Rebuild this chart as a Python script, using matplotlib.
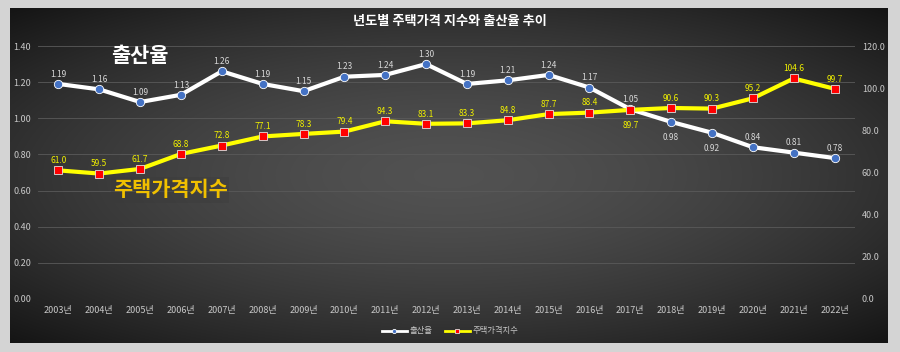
import numpy as np
import matplotlib
matplotlib.use("Agg")
import matplotlib.pyplot as plt

plt.rcParams['font.family'] = ['Noto Sans CJK KR', 'DejaVu Sans']

years = ["2003년", "2004년", "2005년", "2006년", "2007년", "2008년", "2009년", "2010년",
         "2011년", "2012년", "2013년", "2014년", "2015년", "2016년", "2017년", "2018년",
         "2019년", "2020년", "2021년", "2022년"]
birth_rate = [1.19, 1.16, 1.09, 1.13, 1.26, 1.19, 1.15, 1.23, 1.24, 1.30,
              1.19, 1.21, 1.24, 1.17, 1.05, 0.98, 0.92, 0.84, 0.81, 0.78]
house_index = [61.0, 59.5, 61.7, 68.8, 72.8, 77.1, 78.3, 79.4, 84.3, 83.1,
               83.3, 84.8, 87.7, 88.4, 89.7, 90.6, 90.3, 95.2, 104.6, 99.7]
left_ticks = [0.0, 0.2, 0.4, 0.6, 0.8, 1.0, 1.2, 1.4]
right_ticks = [0, 20, 40, 60, 80, 100, 120]

W, H = 900, 352
fig = plt.figure(figsize=(W / 100, H / 100), dpi=100)
fig.patch.set_facecolor('#d4d4d4')

# dark gradient panel
bg = fig.add_axes([10 / W, 1 - 343 / H, 878 / W, 335 / H])
bg.set_axis_off()
yy, xx = np.mgrid[-1:1:200j, -1:1:400j]
r = np.sqrt((xx * 0.85) ** 2 + (yy * 0.9) ** 2)
val = 0.32 - 0.17 * np.clip(r, 0, 1.3) ** 1.6
bg.imshow(np.dstack([val, val, val]), aspect='auto', extent=[0, 1, 0, 1],
          interpolation='bilinear', vmin=0, vmax=1)
bg.set_xlim(0, 1)
bg.set_ylim(0, 1)

ax = fig.add_axes([38 / W, 1 - 299 / H, 817 / W, 253 / H])
ax.patch.set_alpha(0)
x = np.arange(len(years))
ax.set_xlim(-0.5, len(years) - 0.5)
ax.set_ylim(0, 1.4)
ax.set_yticks(left_ticks)
ax.set_yticklabels([f"{v:.2f}" for v in left_ticks])
ax.set_xticks(x)
ax.set_xticklabels(years)
for s in ax.spines.values():
    s.set_visible(False)
ax.tick_params(length=0, colors='#c8c8c8', labelsize=6.5)
ax.tick_params(axis='y', pad=5)
ax.tick_params(axis='x', pad=5)
ax.grid(axis='y', color='#5a5a5a', linewidth=0.6)
ax.set_axisbelow(True)

ax.plot(x, birth_rate, color='white', linewidth=3, marker='o', markersize=6,
        markerfacecolor='#4472c4', markeredgecolor='white', markeredgewidth=0.6,
        label='출산율', zorder=3)
for i, v in enumerate(birth_rate):
    below = v in (0.98, 0.92)
    ax.annotate(f"{v:.2f}", (i, v), xytext=(0, -11 if below else 7), textcoords='offset points',
                ha='center', va='center', fontsize=6, color='#d8d8d8')

ax2 = ax.twinx()
ax2.set_ylim(0, 120)
ax2.set_yticks(right_ticks)
ax2.set_yticklabels([f"{v:.1f}" for v in right_ticks])
for s in ax2.spines.values():
    s.set_visible(False)
ax2.tick_params(length=0, colors='#c8c8c8', labelsize=6.5, pad=5)
ax2.plot(x, house_index, color='#ffff00', linewidth=3, marker='s', markersize=6,
         markerfacecolor='#ff0000', markeredgecolor='#e0e0e0', markeredgewidth=0.6,
         label='주택가격지수', zorder=4)
for i, v in enumerate(house_index):
    below = v == 89.7
    ax2.annotate(f"{v:.1f}", (i, v), xytext=(0, -11 if below else 7), textcoords='offset points',
                 ha='center', va='center', fontsize=6, color='#f0f000')

fig.text(450 / W, 1 - 21 / H, "년도별 주택가격 지수와 출산율 추이", ha='center', va='center',
         fontsize=9.5, color='white', fontweight='bold')
fig.text(140 / W, 1 - 55 / H, "출산율", ha='center', va='center', fontsize=15,
         color='white', fontweight='bold')
fig.text(170 / W, 1 - 190 / H, "주택가격지수", ha='center', va='center', fontsize=15,
         color='#f0c000', fontweight='bold',
         bbox=dict(boxstyle='square,pad=0.1', facecolor='#3a3a3a', edgecolor='none', alpha=0.35))

h1, l1 = ax.get_legend_handles_labels()
h2, l2 = ax2.get_legend_handles_labels()
leg = fig.legend(h1 + h2, l1 + l2, loc='center', bbox_to_anchor=(450 / W, 1 - 331 / H),
                 ncol=2, frameon=False, fontsize=6, labelcolor='#c8c8c8',
                 handlelength=3, columnspacing=1.5, handletextpad=0.3, markerscale=0.5)
for line in leg.get_lines():
    line.set_linewidth(2)

fig.savefig("out.png", dpi=100, facecolor=fig.get_facecolor())
